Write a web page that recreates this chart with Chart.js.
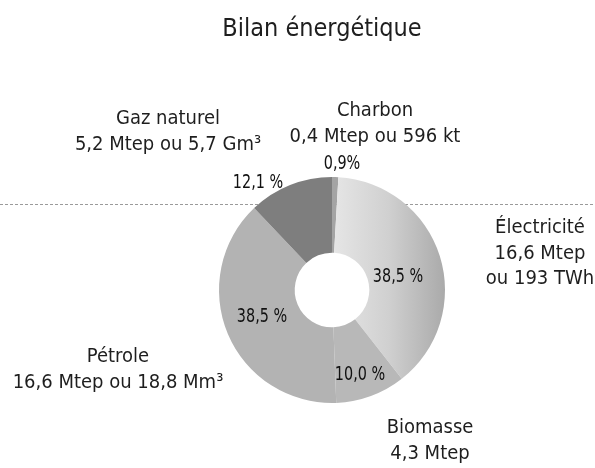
<!DOCTYPE html>
<html>
<head>
<meta charset="utf-8">
<script src="https://cdn.jsdelivr.net/npm/chart.js@4"></script>
<style>
  html, body { margin: 0; padding: 0; background: #fff; }
  #wrap { width: 595px; height: 468px; }
</style>
</head>
<body>
<div id="wrap"><canvas id="bilanChart" width="595" height="468"></canvas></div>
<script>
// Bilan énergétique - doughnut
const categories = ['Charbon', 'Électricité', 'Biomasse', 'Pétrole', 'Gaz naturel'];
const shares = [0.9, 38.5, 10.0, 38.5, 12.1]; // % du total
const shareLabels = ['0,9%', '38,5 %', '10,0 %', '38,5 %', '12,1 %'];
const detailLines = [
    ['Charbon', '0,4 Mtep ou 596 kt'],
    ['Électricité', '16,6 Mtep', 'ou 193 TWh'],
    ['Biomasse', '4,3 Mtep'],
    ['Pétrole', '16,6 Mtep ou 18,8 Mm³'],
    ['Gaz naturel', '5,2 Mtep ou 5,7 Gm³']
];

// text anchors (center x, baseline y)
const detailPos = [[375, 116], [540, 233], [430, 433], [118, 362], [168, 124]];
const sharePos = [[342, 169], [398, 282], [360, 380], [262, 322], [258, 188]];

const FONT = "'DejaVu Sans Condensed', 'Liberation Sans Narrow', 'Liberation Sans', sans-serif";

const greys = ['#a4a4a4', null, '#b8b8b8', '#b3b3b3', '#7e7e7e'];

function sliceColor(c) {
    const i = c.dataIndex;
    if (greys[i]) return greys[i];
    const area = c.chart.chartArea;
    if (!area) return '#cccccc';
    const cx = (area.left + area.right) / 2;
    const g = c.chart.ctx.createLinearGradient(cx, 0, area.right, 0);
    g.addColorStop(0, '#e6e6e6');
    g.addColorStop(0.5, '#d0d0d0');
    g.addColorStop(1, '#aaaaaa');
    return g;
}

const textPlugin = {
    id: 'textPlugin',
    beforeDatasetsDraw(chart) {
        // fold line of the scanned page
        const ctx = chart.ctx;
        ctx.save();
        ctx.strokeStyle = '#9a9a9a';
        ctx.lineWidth = 1;
        ctx.setLineDash([3, 2]);
        ctx.beginPath();
        ctx.moveTo(0, 204.5);
        ctx.lineTo(chart.width, 204.5);
        ctx.stroke();
        ctx.restore();
    },
    afterDraw(chart) {
        const ctx = chart.ctx;
        ctx.save();
        ctx.fillStyle = '#1e1e1e';
        ctx.textAlign = 'center';
        ctx.textBaseline = 'alphabetic';

        ctx.font = '25px ' + FONT;
        ctx.fillText('Bilan énergétique', 322, 36);

        ctx.font = '20px ' + FONT;
        detailLines.forEach((lines, i) => {
            lines.forEach((t, j) => {
                ctx.fillText(t, detailPos[i][0], detailPos[i][1] + j * 25.5);
            });
        });

        // percentages: narrower, taller type
        ctx.fillStyle = '#111';
        ctx.font = '20px ' + FONT;
        shareLabels.forEach((t, i) => {
            ctx.save();
            ctx.translate(sharePos[i][0], sharePos[i][1]);
            ctx.scale(0.8, 1);
            ctx.fillText(t, 0, 0);
            ctx.restore();
        });
        ctx.restore();
    }
};

const ctx = document.getElementById('bilanChart').getContext('2d');

const bilanChart = new Chart(ctx, {
    type: 'doughnut',
    data: {
        labels: categories,
        datasets: [{
            data: shares,
            backgroundColor: sliceColor,
            borderWidth: 0
        }]
    },
    options: {
        responsive: false,
        animation: false,
        cutout: '33%',
        rotation: 0,
        layout: {
            padding: { left: 219, right: 150, top: 177, bottom: 65 }
        },
        plugins: {
            legend: { display: false },
            tooltip: { enabled: false },
            title: { display: false }
        }
    },
    plugins: [textPlugin]
});
</script>
</body>
</html>
